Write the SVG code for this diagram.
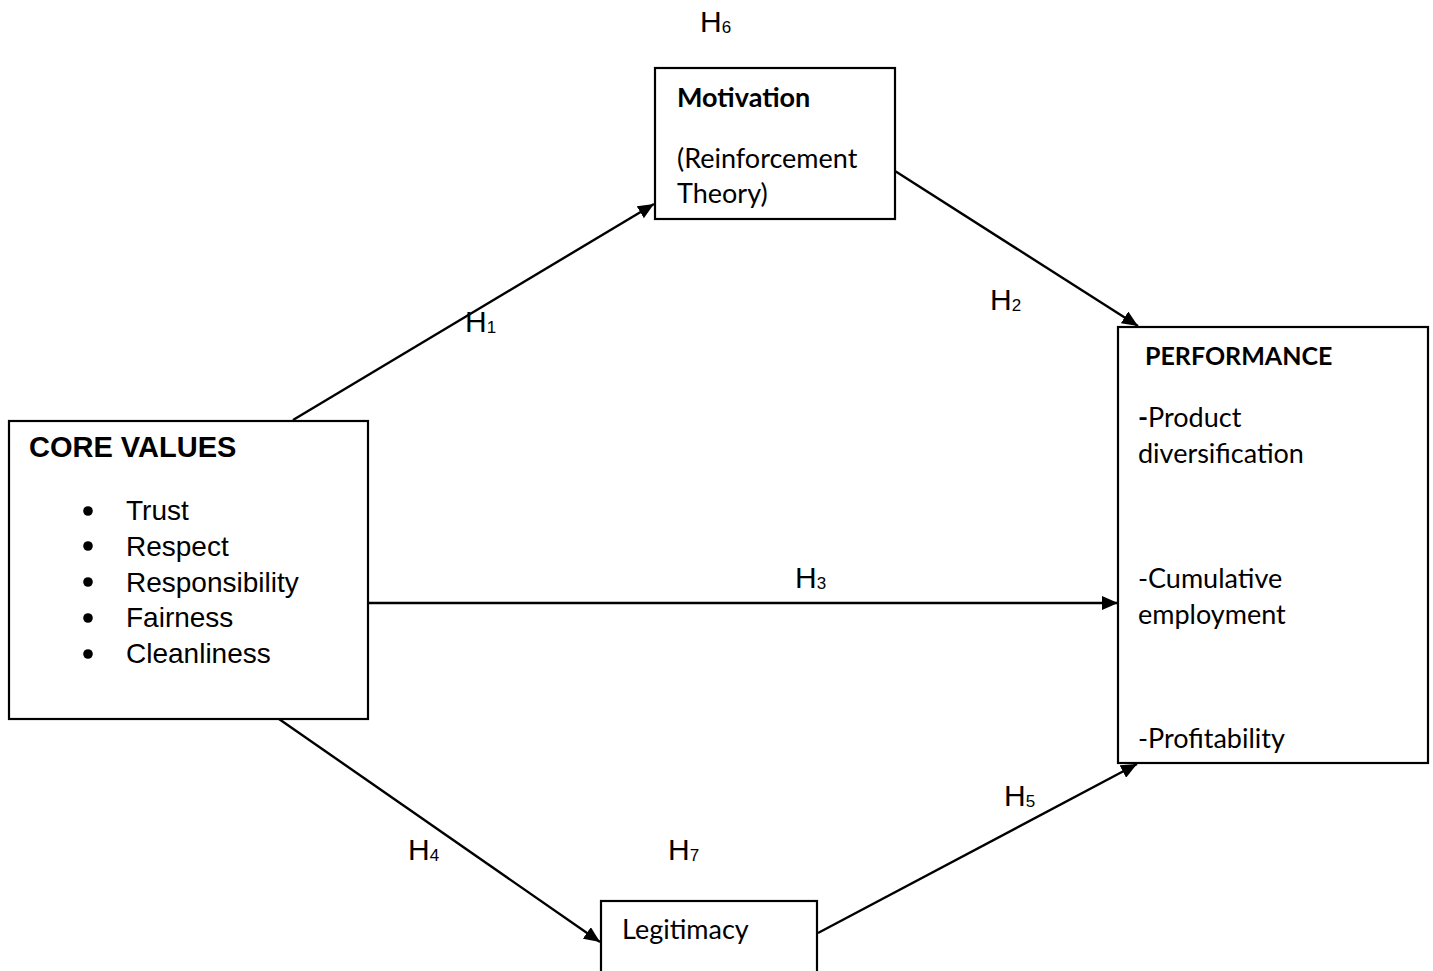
<svg xmlns="http://www.w3.org/2000/svg" width="1433" height="971" viewBox="0 0 1433 971">
  <defs>
    <marker id="arrow" markerWidth="16" markerHeight="14" refX="16" refY="7" orient="auto" markerUnits="userSpaceOnUse">
      <path d="M0,0 L16,7 L0,14 z" fill="#000"/>
    </marker>
  </defs>
  <style>
    .box { fill: #fff; stroke: #000; stroke-width: 2.2; }
    .edge { stroke: #000; stroke-width: 2.4; fill: none; marker-end: url(#arrow); }
    .arial { font-family: "Liberation Sans", Arial, sans-serif; fill: #000; }
    .cal { font-family: Lato, "Open Sans", sans-serif; fill: #000; font-size: 27px; }
    .hd { font-size: 29px; font-weight: bold; }
    .li { font-size: 28px; }
    .calb { font-weight: bold; }
    .caps { font-size: 25px; }
    .h { font-family: "Liberation Sans", Arial, sans-serif; font-size: 30px; fill: #000; }
    .sub { font-size: 17px; }
  </style>
  <rect width="1433" height="971" fill="#fff"/>

  <!-- connectors -->
  <g id="connectors">
    <line class="edge" x1="293" y1="420" x2="654" y2="204"/>
    <line class="edge" x1="895" y1="171" x2="1138" y2="326"/>
    <line class="edge" x1="368" y1="603" x2="1118" y2="603"/>
    <line class="edge" x1="279" y1="719" x2="600" y2="942"/>
    <line class="edge" x1="818" y1="933" x2="1137" y2="764"/>
  </g>

  <!-- core values -->
  <g id="core-values">
    <rect class="box" x="9" y="421" width="359" height="298"/>
    <text class="arial hd" x="29" y="457">CORE VALUES</text>
    <g fill="#000">
      <circle cx="88" cy="511" r="4.8"/>
      <circle cx="88" cy="546" r="4.8"/>
      <circle cx="88" cy="582" r="4.8"/>
      <circle cx="88" cy="618" r="4.8"/>
      <circle cx="88" cy="654" r="4.8"/>
    </g>
    <text class="arial li" x="126" y="520">Trust</text>
    <text class="arial li" x="126" y="556">Respect</text>
    <text class="arial li" x="126" y="592">Responsibility</text>
    <text class="arial li" x="126" y="627">Fairness</text>
    <text class="arial li" x="126" y="663">Cleanliness</text>
  </g>

  <!-- motivation -->
  <g id="motivation">
    <rect class="box" x="655" y="68" width="240" height="151"/>
    <text class="cal calb" x="677" y="107">Motivation</text>
    <text class="cal" x="677" y="168">(Reinforcement</text>
    <text class="cal" x="677" y="203">Theory)</text>
  </g>

  <!-- performance -->
  <g id="performance">
    <rect class="box" x="1118" y="327" width="310" height="436"/>
    <text class="cal calb caps" x="1145" y="365">PERFORMANCE</text>
    <text class="cal" x="1138" y="427"><tspan font-weight="bold">-</tspan>Product</text>
    <text class="cal" x="1138" y="463">diversification</text>
    <text class="cal" x="1138" y="588">-Cumulative</text>
    <text class="cal" x="1138" y="624">employment</text>
    <text class="cal" x="1138" y="748">-Profitability</text>
  </g>

  <!-- legitimacy -->
  <g id="legitimacy">
    <rect class="box" x="601" y="901" width="216" height="90"/>
    <text class="cal" x="622" y="939">Legitimacy</text>
  </g>

  <!-- hypothesis labels -->
  <g id="labels">
    <text class="h" x="700" y="32">H<tspan class="sub" dy="1">6</tspan></text>
    <text class="h" x="465" y="332">H<tspan class="sub" dy="1">1</tspan></text>
    <text class="h" x="990" y="310">H<tspan class="sub" dy="1">2</tspan></text>
    <text class="h" x="795" y="588">H<tspan class="sub" dy="1">3</tspan></text>
    <text class="h" x="408" y="860">H<tspan class="sub" dy="1">4</tspan></text>
    <text class="h" x="1004" y="806">H<tspan class="sub" dy="1">5</tspan></text>
    <text class="h" x="668" y="860">H<tspan class="sub" dy="1">7</tspan></text>
  </g>
</svg>
